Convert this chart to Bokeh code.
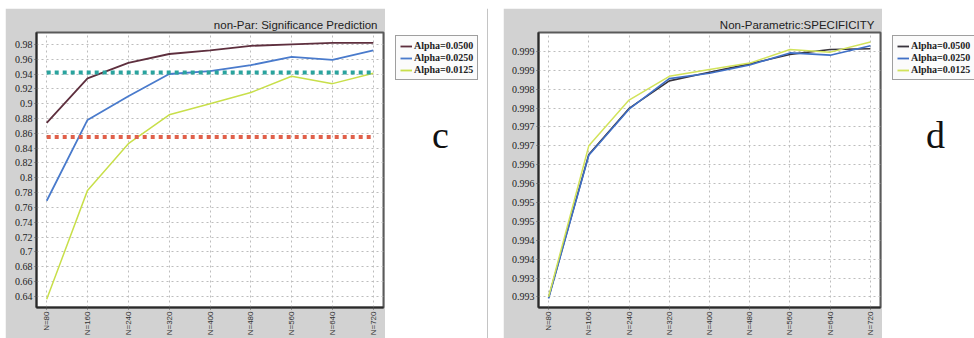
import numpy as np
from bokeh.plotting import figure
from bokeh.models import Range1d, FixedTicker, Legend, LegendItem, Label, Span, Spacer
from bokeh.layouts import row, column
from bokeh.embed import file_html
from bokeh.resources import INLINE
from bokeh.core.properties import value

# ---------------- data ----------------
n_values = [80, 160, 240, 320, 400, 480, 560, 640, 720]
n_labels = ["N=80", "N=160", "N=240", "N=320", "N=400", "N=480", "N=560", "N=640", "N=720"]
series_names = ["Alpha=0.0500", "Alpha=0.0250", "Alpha=0.0125"]

# panel c: non-Par: Significance Prediction
sig_title = "non-Par: Significance Prediction"
sig_a0500 = [0.874, 0.934, 0.955, 0.967, 0.972, 0.978, 0.980, 0.982, 0.982]
sig_a0250 = [0.769, 0.878, 0.910, 0.940, 0.944, 0.952, 0.963, 0.959, 0.972]
sig_a0125 = [0.636, 0.783, 0.846, 0.885, 0.900, 0.915, 0.937, 0.927, 0.941]
sig_ref_high = 0.942
sig_ref_low = 0.855
sig_ticks = [0.64, 0.66, 0.68, 0.70, 0.72, 0.74, 0.76, 0.78, 0.80,
             0.82, 0.84, 0.86, 0.88, 0.90, 0.92, 0.94, 0.96, 0.98]
sig_tick_labels = ["0.64", "0.66", "0.68", "0.7", "0.72", "0.74", "0.76", "0.78", "0.8",
                   "0.82", "0.84", "0.86", "0.88", "0.9", "0.92", "0.94", "0.96", "0.98"]

# panel d: Non-Parametric:SPECIFICITY
spec_title = "Non-Parametric:SPECIFICITY"
spec_a0500 = [0.99248, 0.99627, 0.99749, 0.99822, 0.99845, 0.99867, 0.99892, 0.99905, 0.99907]
spec_a0250 = [0.99246, 0.99625, 0.99747, 0.99828, 0.99842, 0.99864, 0.99896, 0.99890, 0.99915]
spec_a0125 = [0.99250, 0.99650, 0.99771, 0.99834, 0.99852, 0.99869, 0.99905, 0.99898, 0.99925]
spec_ticks = [0.9925, 0.9930, 0.9935, 0.9940, 0.9945, 0.9950, 0.9955,
              0.9960, 0.9965, 0.9970, 0.9975, 0.9980, 0.9985, 0.9990]
spec_tick_labels = ["0.993", "0.993", "0.994", "0.994", "0.995", "0.995", "0.996",
                    "0.996", "0.997", "0.997", "0.998", "0.998", "0.999", "0.999"]

# ---------------- styling ----------------
PANEL_GRAY = "#d2d2d2"
H = 330
sig_colors = ["#5e2f3e", "#4a7bcc", "#c8df4a"]
spec_colors = ["#38343c", "#3f6fc6", "#d2e35a"]


def make_panel(title, series, colors, widths, ticks, tick_labels, y_lo, y_hi, width, left_border):
    p = figure(width=width, height=H, output_backend="svg", toolbar_location=None,
               x_range=Range1d(60, 740), y_range=Range1d(y_lo, y_hi),
               min_border_left=left_border, min_border_right=2,
               min_border_top=24, min_border_bottom=24)
    p.border_fill_color = PANEL_GRAY
    p.background_fill_color = "white"
    p.outline_line_color = "#5a5a5a"
    p.outline_line_width = 2

    p.title.text = title
    p.title.align = "right"
    p.title.text_font = "Liberation Sans"
    p.title.text_font_size = "11.5px"
    p.title.text_font_style = "normal"
    p.title.text_color = "#222222"
    p.title.standoff = 4
    p.title.offset = 6

    p.xaxis.ticker = FixedTicker(ticks=n_values)
    p.xaxis.major_label_overrides = dict(zip(n_values, n_labels))
    p.xaxis.major_label_orientation = np.pi / 2
    p.xaxis.major_label_text_font = "Liberation Sans"
    p.xaxis.major_label_text_font_size = "8px"
    p.xaxis.major_label_text_color = "#333333"
    p.xaxis.major_label_standoff = 2

    p.yaxis.ticker = FixedTicker(ticks=ticks)
    p.yaxis.major_label_overrides = dict(zip(ticks, tick_labels))
    p.yaxis.major_label_text_font = "Liberation Serif"
    p.yaxis.major_label_text_font_size = "10px"
    p.yaxis.major_label_text_color = "#222222"
    p.yaxis.major_label_standoff = 2

    for ax in (p.xaxis[0], p.yaxis[0]):
        ax.axis_line_color = "#2a2a2a"
        ax.axis_line_width = 2
        ax.major_tick_in = 0
        ax.major_tick_out = 2
        ax.major_tick_line_color = "#555555"
        ax.minor_tick_line_color = None

    p.grid.grid_line_color = "#bdbdbd"
    p.grid.grid_line_dash = "2 3"
    p.grid.grid_line_width = 1

    for ys, c, w in zip(series, colors, widths):
        p.line(n_values, ys, line_color=c, line_width=w)
    return p


def make_side(width, series, series_colors, letter, letter_x, legend_x, sep_x=None):
    # x range lies left of zero so the legend's source lines (x = N values) stay off-canvas
    s = figure(width=width, height=H, output_backend="svg", toolbar_location=None,
               x_range=Range1d(-width, 0), y_range=Range1d(0, H),
               x_axis_location=None, y_axis_location=None,
               min_border=0, min_border_left=0, min_border_right=0,
               min_border_top=0, min_border_bottom=0, frame_align=False)
    s.grid.visible = False
    s.outline_line_color = None
    s.background_fill_color = "white"
    s.border_fill_color = "white"
    items = []
    for name, ys, c in zip(series_names, series, series_colors):
        r = s.line(n_values, ys, line_color=c, line_width=1.8)
        items.append(LegendItem(label=name, renderers=[r]))
    leg = Legend(items=items, location=(legend_x, 258))
    leg.label_text_font = "Liberation Serif"
    leg.label_text_font_size = "10px"
    leg.label_text_font_style = "bold"
    leg.label_text_color = "#222222"
    leg.label_height = 10
    leg.glyph_height = 10
    leg.glyph_width = 12
    leg.label_standoff = 2
    leg.spacing = 1
    leg.padding = 4
    leg.margin = 0
    leg.border_line_color = "#444444"
    leg.border_line_width = 1.5
    leg.background_fill_color = "#fbfbfb"
    leg.background_fill_alpha = 1
    s.add_layout(leg, "center")
    s.add_layout(Label(x=letter_x, y=204, x_units="screen", y_units="screen", text=letter,
                       text_font="Liberation Serif", text_font_size="38px",
                       text_color="#111111", text_align="center", text_baseline="alphabetic"))
    if sep_x is not None:
        s.add_layout(Span(location=sep_x - width, dimension="height",
                          line_color="#c4c4c4", line_width=1))
    return s


p_c = make_panel(sig_title, [sig_a0500, sig_a0250, sig_a0125], sig_colors, [1.8, 1.8, 1.5],
                 sig_ticks, sig_tick_labels, 0.625, 0.996, 380, 31)
p_c.line(n_values, [sig_ref_high] * len(n_values), line_color="#2aa39e", line_width=4, line_dash="4 4")
p_c.line(n_values, [sig_ref_low] * len(n_values), line_color="#e0604a", line_width=4, line_dash="4 4")

p_d = make_panel(spec_title, [spec_a0500, spec_a0250, spec_a0125], spec_colors, [1.6, 1.6, 1.5],
                 spec_ticks, spec_tick_labels, 0.99222, 0.9995, 379, 35)

side_c = make_side(118, [sig_a0500, sig_a0250, sig_a0125], sig_colors, "c", 55, 10, sep_x=102)
side_d = make_side(92, [spec_a0500, spec_a0250, spec_a0125], spec_colors, "d", 53, 10)

layout = column(Spacer(width=974, height=8),
                row(Spacer(width=5, height=H), p_c, side_c, p_d, side_d, spacing=0),
                spacing=0)

open("out.html", "w").write(file_html(layout, INLINE))
